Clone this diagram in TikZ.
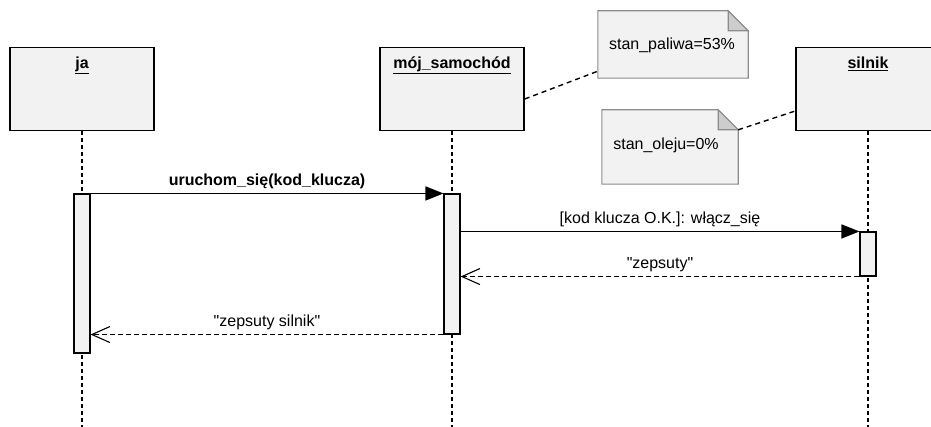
\documentclass[tikz,border=0pt]{standalone}
\usepackage{fontspec}
\setmainfont{Liberation Sans}
\usetikzlibrary{arrows.meta,positioning,calc}
\definecolor{OBJ-FILL}{RGB}{242, 242, 242}
\definecolor{NOTE-EDGE}{RGB}{140, 140, 140}
\definecolor{NOTE-FOLD}{RGB}{205, 205, 205}

\begin{document}
\begin{tikzpicture}[x=1pt, y=-1pt,
    objbox/.style={draw, fill=OBJ-FILL, line width=1.5pt, minimum width=144pt, minimum height=83pt},
    objtitle/.style={font=\fontsize{16}{19}\selectfont\bfseries, inner sep=0pt},
    actbar/.style={draw, fill=OBJ-FILL, line width=1.1pt, minimum width=16pt, inner sep=0pt},
    lifeline/.style={line width=1.1pt, dash pattern=on 4pt off 3pt},
    notelink/.style={line width=1.4pt, dash pattern=on 5pt off 4pt},
    notearea/.style={minimum width=150pt, minimum height=67pt},
    notetext/.style={font=\fontsize{16}{19}\selectfont},
    call/.style={line width=1.4pt, -{Triangle[length=18pt, width=14pt]}},
    reply/.style={line width=1.1pt, dash pattern=on 5pt off 3pt, -{Straight Barb[length=18pt, width=16pt]}},
    msg/.style={font=\fontsize{16}{19}\selectfont, inner sep=4pt}]
  \clip (0,0) rectangle (931,427);
  \coordinate (bottom) at (0,427);

  % Objects
  \node[objbox] (ja) at (82,89) {};
  \node[objbox] (sam) at (452,89) {};
  \node[objbox] (sil) at (868,89) {};
  \node[objtitle, below=10pt of ja.north] (jat) {\underline{ja}};
  \node[objtitle, below=10pt of sam.north] (samt) {\underline{mój\_samochód}};
  \node[objtitle, below=10pt of sil.north] (silt) {\underline{silnik}};

  % Lifelines
  \draw[lifeline] (ja.south) -- (ja.south |- bottom);
  \draw[lifeline] (sam.south) -- (sam.south |- bottom);
  \draw[lifeline] (sil.south) -- (sil.south |- bottom);

  % Activations
  \node[actbar, minimum height=159pt] (actja) at (82,273.5) {};
  \node[actbar, minimum height=140pt] (actsam) at (452,264) {};
  \node[actbar, minimum height=44pt] (actsil) at (868,254) {};

  % Notes with folded corner
  \node[notearea] (paliwa) at (673,44.5) {};
  \node[notearea, minimum width=136pt, minimum height=74pt] (olej) at (670,147) {};
  \foreach \n in {paliwa,olej} {
    \draw[NOTE-EDGE, line width=1.1pt, fill=OBJ-FILL] (\n.south west) -- (\n.north west)
      -- ([xshift=-20pt]\n.north east) -- ([yshift=-20pt]\n.north east)
      -- (\n.south east) -- cycle;
    \draw[NOTE-EDGE, line width=1.1pt, fill=NOTE-FOLD] ([xshift=-20pt]\n.north east)
      -- ([xshift=-20pt,yshift=-20pt]\n.north east) -- ([yshift=-20pt]\n.north east) -- cycle;
  }
  \node[notetext] (paliwat) at (672,45) {stan\_paliwa=53\%};
  \node[notetext] (olejt) at (666,145) {stan\_oleju=0\%};
  \draw[notelink] ($(sam.east)+(0,10)$) -- ($(paliwa.south west)+(0,-7)$);
  \draw[notelink] ([yshift=-20pt]olej.north east) -- ($(sil.west)+(0,22)$);

  % Messages
  \draw[call] (actja.north east) -- (actsam.north west)
    node[midway, above, msg, font=\fontsize{16}{19}\selectfont\bfseries] {uruchom\_się(kod\_klucza)};
  \draw[call] (actsam.east |- actsil.north) -- (actsil.north west)
    node[midway, above, msg] {[kod klucza O.K.]: włącz\_się};
  \draw[reply] (actsil.south west) -- (actsam.east |- actsil.south)
    node[midway, above, msg] {\textquotedbl zepsuty\textquotedbl};
  \draw[reply] (actsam.south west) -- (actja.east |- actsam.south)
    node[midway, above, msg] {\textquotedbl zepsuty silnik\textquotedbl};
\end{tikzpicture}
\end{document}
